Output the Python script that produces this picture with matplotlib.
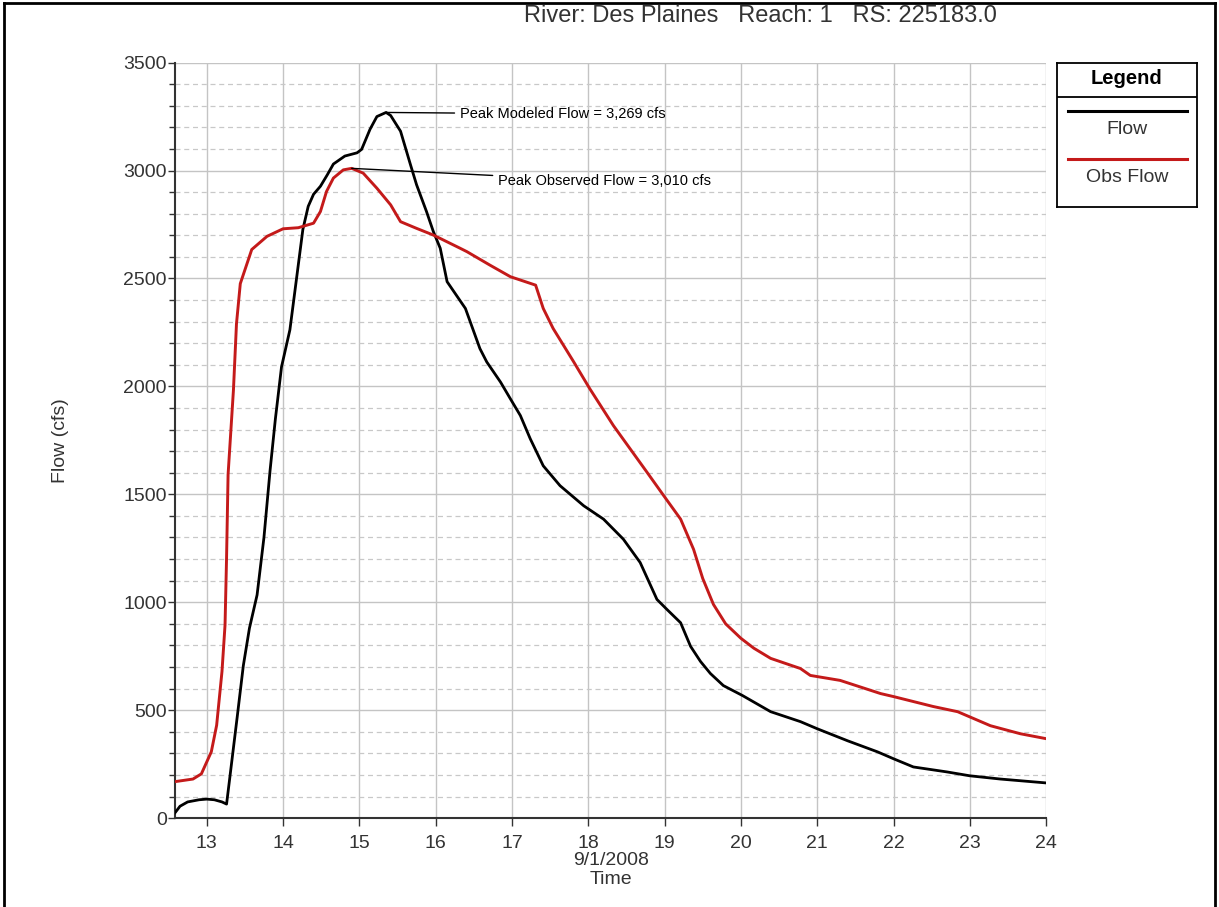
import numpy as np
import matplotlib
matplotlib.use("Agg")
import matplotlib.pyplot as plt
from matplotlib.lines import Line2D
from matplotlib.ticker import MultipleLocator

plt.rcParams['font.family'] = ['Liberation Sans', 'DejaVu Sans']

# Modeled flow (black), time in days of Sept 2008
flow_t = [12.585, 12.65, 12.75, 12.9, 13.0, 13.1, 13.2, 13.26, 13.3, 13.4,
          13.48, 13.56, 13.66, 13.75, 13.83, 13.9, 13.98, 14.09, 14.18, 14.26,
          14.33, 14.4, 14.49, 14.58, 14.66, 14.81, 14.97, 15.03, 15.14, 15.23,
          15.35, 15.41, 15.54, 15.67, 15.75, 15.88, 15.97, 16.06, 16.15, 16.39,
          16.58, 16.67, 16.85, 16.98, 17.11, 17.24, 17.41, 17.63, 17.94, 18.2,
          18.46, 18.68, 18.9, 19.03, 19.21, 19.34, 19.47, 19.6, 19.77, 20.02,
          20.39, 20.78, 21.0, 21.4, 21.79, 22.0, 22.26, 22.7, 23.0, 23.4, 24.0]
flow_q = [25, 55, 75, 85, 88, 85, 75, 65, 180, 470,
          707, 880, 1034, 1300, 1610, 1850, 2090, 2262, 2508, 2727,
          2834, 2890, 2927, 2980, 3030, 3067, 3082, 3098, 3191, 3250,
          3269, 3255, 3182, 3027, 2934, 2810, 2717, 2640, 2485, 2361,
          2175, 2113, 2020, 1942, 1865, 1757, 1632, 1540, 1447, 1385,
          1292, 1184, 1013, 967, 905, 796, 726, 670, 614, 568,
          493, 447, 414, 358, 307, 275, 237, 214, 196, 181, 163]

# Observed flow (red)
obs_t = [12.585, 12.82, 12.93, 13.06, 13.13, 13.2, 13.24, 13.26, 13.28, 13.35,
         13.39, 13.44, 13.59, 13.79, 14.0, 14.2, 14.4, 14.49, 14.57, 14.66,
         14.79, 14.9, 15.05, 15.23, 15.41, 15.54, 15.75, 15.97, 16.32, 16.41,
         16.71, 16.98, 17.31, 17.41, 17.54, 17.81, 18.02, 18.33, 18.77, 18.99,
         19.21, 19.38, 19.5, 19.64, 19.8, 20.0, 20.17, 20.39, 20.78, 20.91,
         21.3, 21.83, 22.0, 22.52, 22.84, 23.27, 23.66, 24.0]
obs_q = [169, 181, 205, 307, 430, 679, 894, 1205, 1592, 1982,
         2290, 2476, 2634, 2695, 2730, 2735, 2756, 2810, 2903, 2965,
         3003, 3010, 2988, 2918, 2841, 2763, 2732, 2701, 2640, 2624,
         2562, 2508, 2469, 2361, 2268, 2113, 1989, 1818, 1602, 1493,
         1385, 1245, 1110, 990, 900, 833, 787, 740, 693, 661,
         638, 577, 563, 517, 493, 428, 391, 368]

x_ticks = list(range(13, 25))
red = '#c41a1a'

fig = plt.figure(figsize=(12.19, 9.07), dpi=100)
ax = fig.add_axes([0.1436, 0.098, 0.7146, 0.833])

ax.plot(flow_t, flow_q, color='black', lw=2.0, zorder=3)
ax.plot(obs_t, obs_q, color=red, lw=2.1, zorder=3)

ax.set_xlim(12.585, 24)
ax.set_ylim(0, 3500)
ax.set_xticks(x_ticks)
ax.yaxis.set_major_locator(MultipleLocator(500))
ax.yaxis.set_minor_locator(MultipleLocator(100))

# grid: solid majors, dashed minors on y
ax.grid(which='major', color='#c4c4c4', lw=1.0, ls='-')
ax.grid(which='minor', axis='y', color='#c8c8c8', lw=0.9, ls=(0, (4, 3)))
ax.set_axisbelow(True)

for s in ['top', 'right']:
    ax.spines[s].set_visible(False)
for s in ['left', 'bottom']:
    ax.spines[s].set_color('#333333')
    ax.spines[s].set_linewidth(1.5)

ax.tick_params(which='major', length=5, width=1, color='#333333', labelsize=14, labelcolor='#333333')
ax.tick_params(axis='y', which='major', pad=1)
ax.tick_params(axis='x', which='major', length=6, pad=6)
ax.tick_params(which='minor', length=4, width=1, color='#333333')
ax.tick_params(axis='x', which='minor', length=0)

ax.set_xlabel('9/1/2008\nTime', fontsize=14, color='#333333', linespacing=1.2, labelpad=0)
ax.set_ylabel('Flow (cfs)', fontsize=14, color='#333333', labelpad=39)

# peak annotations
ipk = int(np.argmax(flow_q))
ax.annotate('Peak Modeled Flow = 3,269 cfs', xy=(flow_t[ipk], flow_q[ipk]),
            xytext=(16.32, 3262), fontsize=10.5, va='center',
            arrowprops=dict(arrowstyle='-', color='black', lw=1.0, shrinkA=2, shrinkB=0))
iob = int(np.argmax(obs_q))
ax.annotate('Peak Observed Flow = 3,010 cfs', xy=(obs_t[iob], obs_q[iob]),
            xytext=(16.82, 2951), fontsize=10.5, va='center',
            arrowprops=dict(arrowstyle='-', color='black', lw=1.0, shrinkA=2, shrinkB=0))

fig.text(760 / 1219, 1 - 16 / 907, 'River: Des Plaines   Reach: 1   RS: 225183.0',
         ha='center', va='center', fontsize=17, color='#333333')

# legend box drawn as its own small axes
lg = fig.add_axes([1057 / 1219, 1 - 207 / 907, 140 / 1219, 144 / 907])
lg.set_xlim(0, 1)
lg.set_ylim(0, 1)
lg.set_xticks([])
lg.set_yticks([])
for s in lg.spines.values():
    s.set_linewidth(1.3)
lg.axhline(1 - 34 / 144, color='black', lw=1.3)
lg.text(0.5, 1 - 15 / 144, 'Legend', ha='center', va='center', fontsize=14.5, fontweight='bold')
lg.plot([0.08, 0.93], [1 - 48 / 144] * 2, color='black', lw=2.2)
lg.text(0.5, 1 - 67 / 144, 'Flow', ha='center', va='center', fontsize=14, color='#333333')
lg.plot([0.08, 0.93], [1 - 96 / 144] * 2, color=red, lw=2.2)
lg.text(0.5, 1 - 115 / 144, 'Obs Flow', ha='center', va='center', fontsize=14, color='#333333')

# outer frame (left, top, right)
fig.add_artist(Line2D([4 / 1219, 4 / 1219], [0, 1 - 3 / 907], color='black', lw=2, transform=fig.transFigure))
fig.add_artist(Line2D([4 / 1219, 1215 / 1219], [1 - 3 / 907, 1 - 3 / 907], color='black', lw=2, transform=fig.transFigure))
fig.add_artist(Line2D([1215 / 1219, 1215 / 1219], [0, 1 - 3 / 907], color='black', lw=2, transform=fig.transFigure))

fig.savefig('out.png', dpi=100)
